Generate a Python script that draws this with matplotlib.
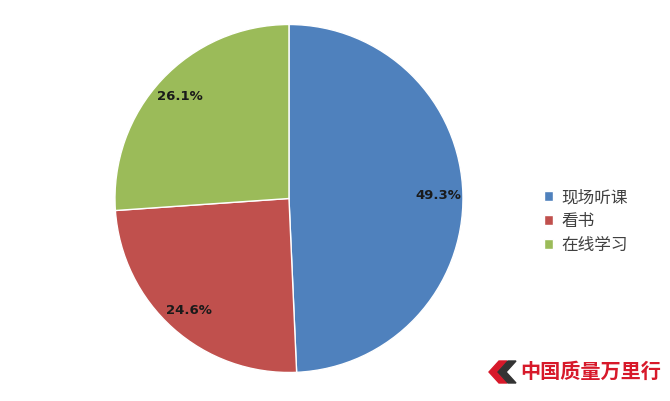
import matplotlib.pyplot as plt
from matplotlib.patches import Polygon

plt.rcParams['font.family'] = ['Noto Sans CJK SC', 'DejaVu Sans']

labels = ["现场听课", "看书", "在线学习"]
values = [49.3, 24.6, 26.1]
colors = ["#4F81BD", "#C0504D", "#9BBB59"]

fig = plt.figure(figsize=(6.7, 4.01), dpi=100)
ax = fig.add_axes([0.1716, 0.0711, 0.5194, 0.8678])

wedges, texts, autotexts = ax.pie(
    values, colors=colors, startangle=90, counterclock=False,
    autopct=lambda p: "%.1f%%" % p, pctdistance=0.86,
    wedgeprops=dict(edgecolor="white", linewidth=1.0),
)
for t in autotexts:
    t.set_fontsize(9.5)
    t.set_fontweight("bold")
    t.set_color("#1a1a1a")
    t.set_family(["DejaVu Sans"])
ax.set_xlim(-1, 1)
ax.set_ylim(-1, 1)
ax.set_aspect("equal")

leg = fig.legend(wedges, labels, loc="center left", bbox_to_anchor=(0.79, 0.448),
                 frameon=False, fontsize=12, handlelength=0.55, handleheight=0.55,
                 handletextpad=0.45, labelspacing=0.4)
for t in leg.get_texts():
    t.set_color("#404040")

# watermark
fig.text(0.776, 0.073, "中国质量万里行", color="#d7192a", fontsize=14.5,
         fontweight="bold", ha="left", va="center")
W, H = 670, 401
def px(pts):
    return [(x / W, 1 - y / H) for x, y in pts]
fig.patches.append(Polygon(px([(499, 361), (507, 361), (497, 372), (507, 383), (499, 383), (489, 372)]),
                           closed=True, color="#d7192a", transform=fig.transFigure))
fig.patches.append(Polygon(px([(508, 361), (516, 361), (506, 372), (516, 383), (508, 383), (498, 372)]),
                           closed=True, color="#333333", transform=fig.transFigure))

fig.savefig("out.png", dpi=100)
